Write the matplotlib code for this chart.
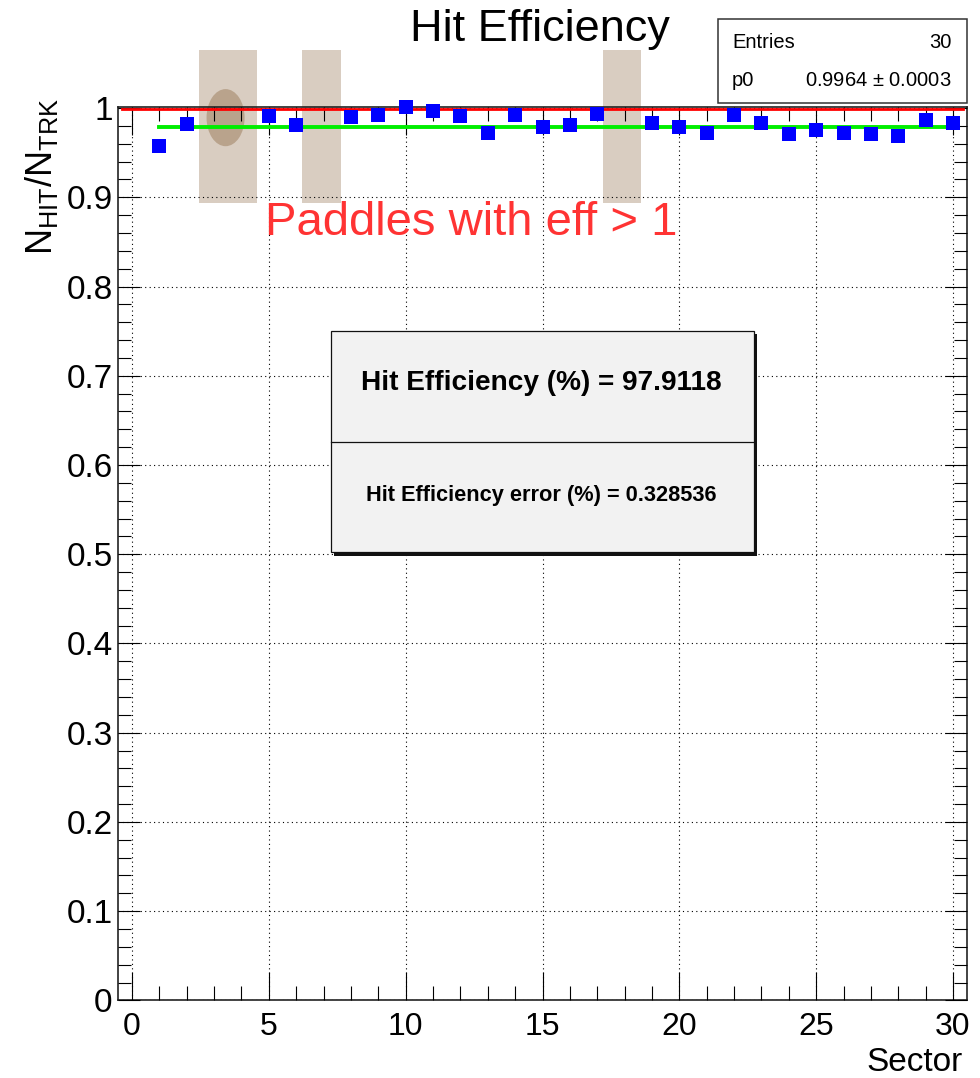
import numpy as np
import matplotlib
matplotlib.use("Agg")
import matplotlib.pyplot as plt
from matplotlib.patches import Rectangle, Ellipse
from matplotlib.ticker import MultipleLocator, FuncFormatter

plt.rcParams['font.family'] = ['Liberation Sans', 'DejaVu Sans']
plt.rcParams['mathtext.fontset'] = 'custom'
plt.rcParams['mathtext.rm'] = 'Liberation Sans'
plt.rcParams['mathtext.it'] = 'Liberation Sans:italic'

# data
sectors = np.arange(1, 31)
# sectors 3, 4, 7, 18 are above the plotted range (eff > 1), estimated
eff = [0.958, 0.982, 1.02, 1.02, 0.991, 0.981, 1.02, 0.990, 0.992, 1.001,
       0.997, 0.991, 0.972, 0.992, 0.979, 0.981, 0.993, 1.02, 0.983, 0.979,
       0.972, 0.992, 0.9835, 0.9715, 0.975, 0.972, 0.971, 0.9685, 0.9865, 0.9835]
fit_line = 0.9985          # red fit line as drawn
fit_p0, fit_p0_err = 0.9964, 0.0003
hit_eff, hit_eff_err = 97.9118, 0.328536
entries = 30

# highlighted paddles (x ranges in sector units)
bands = [(2.44, 4.55), (6.23, 7.62), (17.21, 18.6)]

W, H = 980, 1078
def fx(px):
    return px / W
def fy(py):
    return 1 - py / H

fig = plt.figure(figsize=(9.8, 10.78), dpi=100)
ax = fig.add_axes([fx(118.3), fy(1000.4), fx(966.7) - fx(118.3), fy(107.3) - fy(1000.4)])
ymax = 1.0009
ax.set_xlim(-0.5, 30.5)
ax.set_ylim(0, ymax)

# shaded annotations
for x0, x1 in bands:
    ax.add_patch(Rectangle((x0, 0.8935), x1 - x0, 1.065 - 0.8935, facecolor='#d9cdc1',
                           edgecolor='none', zorder=1, clip_on=False))
ax.add_patch(Ellipse((3.42, 0.9893), 1.39, 0.064, facecolor='#b9a38c',
                     edgecolor='none', zorder=1.2, clip_on=False))

# fit and mean lines
ax.plot([-0.35, 30.35], [fit_line, fit_line], color='#ff0000', lw=2.0, zorder=3)
ax.plot([1, 30], [hit_eff / 100, hit_eff / 100], color='#00ee00', lw=2.8, zorder=3.5)

eff = np.array(eff)
vis = eff <= ymax + 0.001
ax.plot(sectors[vis], eff[vis], 's', color='#0000ff', markersize=10.3, markeredgewidth=0,
        zorder=5, clip_on=False)

# axes style
ax.set_axisbelow(False)
ax.xaxis.set_major_locator(MultipleLocator(5))
ax.xaxis.set_minor_locator(MultipleLocator(1))
ax.yaxis.set_major_locator(MultipleLocator(0.1))
ax.yaxis.set_minor_locator(MultipleLocator(0.02))
ax.yaxis.set_major_formatter(FuncFormatter(lambda v, _: f'{v:g}'))
ax.tick_params(which='both', direction='in', top=True, right=True, width=0.8, color='black')
ax.tick_params(axis='x', which='major', length=20, labelsize=23, pad=8)
ax.tick_params(axis='x', which='minor', length=10)
ax.tick_params(axis='y', which='major', length=16, labelsize=24, pad=4)
ax.tick_params(axis='y', which='minor', length=9.5)
ax.grid(True, which='major', color='black', linestyle=(0, (1, 3)), lw=0.8)
for s in ax.spines.values():
    s.set_linewidth(1.2)
    s.set_color('#222222')

ax.text(-0.091, 0.922, r'$\mathregular{N_{HIT}/N_{TRK}}$', rotation=90, ha='center', va='center',
        fontsize=26, transform=ax.transAxes)
ax.text(0.9957, -0.070, 'Sector', ha='right', va='center', fontsize=24, transform=ax.transAxes)

# title
fig.text(fx(540), fy(30), 'Hit Efficiency', ha='center', va='center', fontsize=32.5)

# stats box
fig.add_artist(Rectangle((fx(718), fy(103)), fx(967) - fx(718), fy(19.3) - fy(103),
                         transform=fig.transFigure, facecolor='white', edgecolor='#333333', lw=1.1))
fig.text(fx(732), fy(42), 'Entries', ha='left', va='center', fontsize=14.5)
fig.text(fx(952), fy(42), f'{entries}', ha='right', va='center', fontsize=14.5)
fig.text(fx(732), fy(81), 'p0', ha='left', va='center', fontsize=14.5)
fig.text(fx(952), fy(81), f'{fit_p0:.4f} $\\pm$ {fit_p0_err:.4f}', ha='right', va='center', fontsize=14.5)

# result box with shadow
fig.add_artist(Rectangle((fx(334), fy(555.5)), fx(757) - fx(334), fy(334) - fy(555.5),
                         transform=fig.transFigure, facecolor='#111111', edgecolor='none'))
fig.add_artist(Rectangle((fx(331), fy(552.3)), fx(754.3) - fx(331), fy(331) - fy(552.3),
                         transform=fig.transFigure, facecolor='#f2f2f2', edgecolor='#111111', lw=0.9))
fig.add_artist(plt.Line2D([fx(331), fx(754.3)], [fy(442.3), fy(442.3)], transform=fig.transFigure,
                          color='#111111', lw=0.9))
fig.text(fx(541), fy(383), f'Hit Efficiency (%) = {hit_eff:g}', ha='center', va='center',
         fontsize=20.2, fontweight='bold')
fig.text(fx(541), fy(496), f'Hit Efficiency error (%) = {hit_eff_err:g}', ha='center', va='center',
         fontsize=15.7, fontweight='bold')

# annotation text
fig.text(fx(265), fy(223), 'Paddles with eff > 1', ha='left', va='center', fontsize=34,
         color='#ff3333')

fig.savefig('out.png', dpi=100)
